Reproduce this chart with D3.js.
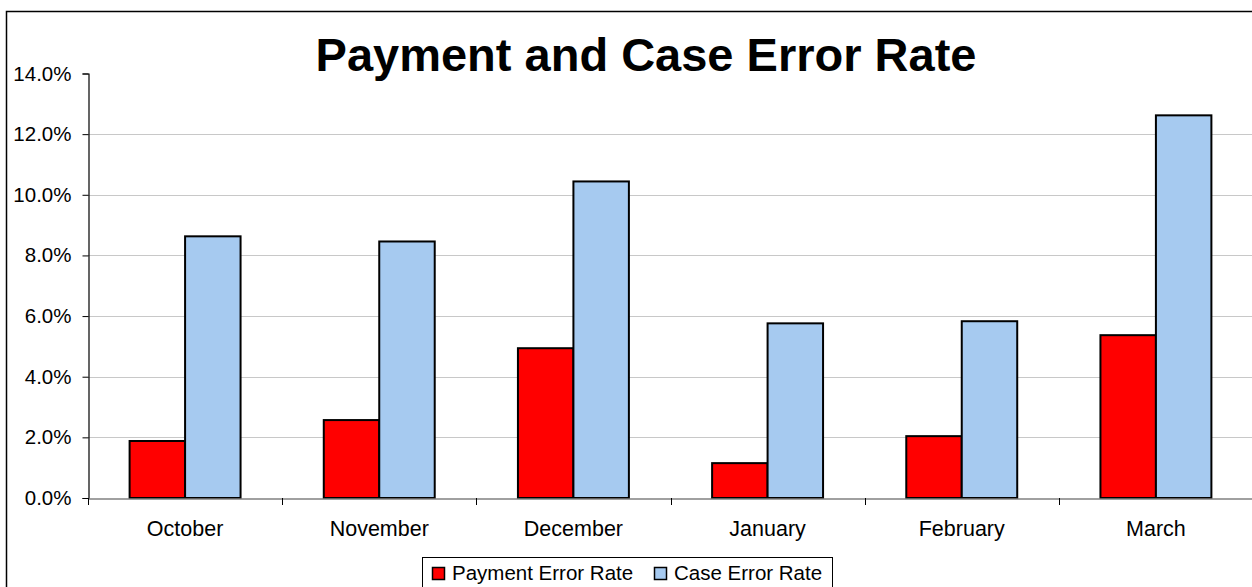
<!DOCTYPE html>
<html lang="en">
<head>
<meta charset="utf-8">
<title>Payment and Case Error Rate</title>
<style>
  * { margin: 0; padding: 0; box-sizing: border-box; }
  body { background: #fff; overflow: hidden; font-family: "Liberation Sans", Arial, sans-serif; }
  svg { display: block; }
</style>
</head>
<body>
<svg id="chart" width="1252" height="587"></svg>
<script src="https://cdnjs.cloudflare.com/ajax/libs/d3/7.8.5/d3.min.js"></script>
<script>
const months = ["October", "November", "December", "January", "February", "March"];
const paymentErrorRate = [1.88, 2.57, 4.94, 1.15, 2.04, 5.37];
const caseErrorRate = [8.63, 8.46, 10.44, 5.76, 5.83, 12.62];
const yTicks = [0, 2, 4, 6, 8, 10, 12, 14];
const seriesNames = ["Payment Error Rate", "Case Error Rate"];
const seriesColors = ["#ff0000", "#a6caf0"];

const svg = d3.select("#chart");
const plot = { left: 88, right: 1253, top: 73.5, bottom: 498 };

// outer chart border
svg.append("rect")
  .attr("x", 6.5).attr("y", 11.5)
  .attr("width", 1260).attr("height", 600)
  .attr("fill", "#fff").attr("stroke", "#000").attr("stroke-width", 1.5);

const x = d3.scaleBand().domain(months).range([plot.left, plot.right]);
// Excel style: gap width ~150% of a bar
const inner = d3.scaleBand().domain(seriesNames).range([0, x.bandwidth()]).paddingOuter(0.75);
const y = d3.scaleLinear().domain([0, 14]).range([plot.bottom, plot.top]);

// gridlines
svg.append("g").selectAll("line")
  .data(yTicks.filter(d => d > 0 && d < 14)).join("line")
  .attr("x1", plot.left).attr("x2", plot.right)
  .attr("y1", d => Math.round(y(d)) + 0.5).attr("y2", d => Math.round(y(d)) + 0.5)
  .attr("stroke", "#c8c8c8").attr("stroke-width", 1);

// y axis
const yAxis = svg.append("g")
  .attr("transform", `translate(${plot.left + 0.5},0)`)
  .call(d3.axisLeft(y).tickValues(yTicks).tickSize(6).tickPadding(11)
    .tickFormat(d => d.toFixed(1) + "%"));
yAxis.select(".domain").attr("stroke", "#000").attr("stroke-width", 1.2);
yAxis.selectAll(".tick line").attr("stroke", "#000");
yAxis.selectAll("text").attr("font-size", 20.5).attr("fill", "#000")
  .attr("font-family", "Liberation Sans, Arial, sans-serif");

// bars
const series = [paymentErrorRate, caseErrorRate];
const groups = svg.append("g").selectAll("g")
  .data(series).join("g")
  .attr("fill", (d, i) => seriesColors[i]);
groups.each(function(vals, si) {
  d3.select(this).selectAll("rect")
    .data(vals).join("rect")
    .attr("x", (v, i) => x(months[i]) + inner(seriesNames[si]))
    .attr("width", inner.bandwidth())
    .attr("y", v => y(v))
    .attr("height", v => plot.bottom - y(v))
    .attr("stroke", "#000").attr("stroke-width", 2);
});

// x axis
const xAxis = svg.append("g")
  .attr("transform", `translate(0,${plot.bottom + 0.5})`)
  .call(d3.axisBottom(x).tickSize(0).tickPadding(22));
xAxis.select(".domain").attr("stroke", "#808080").attr("stroke-width", 1.5);
xAxis.selectAll("text").attr("font-size", 21.5).attr("fill", "#000")
  .attr("font-family", "Liberation Sans, Arial, sans-serif");
// category boundary ticks
svg.append("g").selectAll("line")
  .data(d3.range(months.length + 1)).join("line")
  .attr("x1", i => Math.round(plot.left + i * x.step()) + 0.5)
  .attr("x2", i => Math.round(plot.left + i * x.step()) + 0.5)
  .attr("y1", plot.bottom).attr("y2", plot.bottom + 7)
  .attr("stroke", "#000").attr("stroke-width", 1);

// title
svg.append("text")
  .attr("x", 646).attr("y", 71)
  .attr("text-anchor", "middle")
  .attr("font-size", 47).attr("font-weight", "bold")
  .text("Payment and Case Error Rate");

// legend
const lg = svg.append("g");
lg.append("rect")
  .attr("x", 422.5).attr("y", 557.5).attr("width", 410).attr("height", 40)
  .attr("fill", "#fff").attr("stroke", "#000").attr("stroke-width", 1);
const legendX = [432, 654];
seriesNames.forEach((name, i) => {
  lg.append("rect")
    .attr("x", legendX[i] + 0.5).attr("y", 567.5).attr("width", 12).attr("height", 12)
    .attr("fill", seriesColors[i]).attr("stroke", "#000").attr("stroke-width", 1.5);
  lg.append("text")
    .attr("x", legendX[i] + 20).attr("y", 580)
    .attr("font-size", 20.5).attr("fill", "#000")
    .text(name);
});
</script>
</body>
</html>
